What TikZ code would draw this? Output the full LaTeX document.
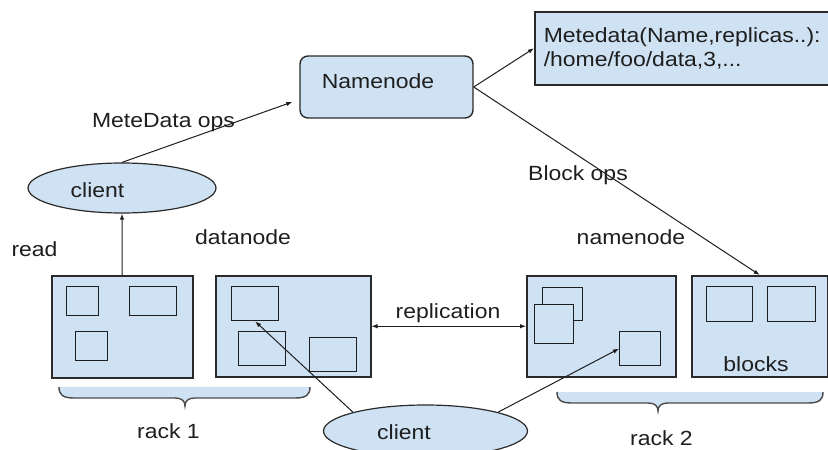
\documentclass[tikz,border=0pt]{standalone}
\usepackage{fontspec}
\newfontfamily\diafont{Liberation Sans}[FakeStretch=1.12]
\usetikzlibrary{shapes.geometric,arrows.meta}
\definecolor{boxblue}{HTML}{CFE2F3}
\definecolor{edgegray}{HTML}{2A2A2A}
\definecolor{inkgray}{HTML}{1E1E1E}

\tikzset{
  rack/.style={draw=edgegray, line width=1.5pt, fill=boxblue, anchor=north west, inner sep=0pt},
  blk/.style={draw=inkgray, line width=1.4pt, fill=boxblue, anchor=north west, inner sep=0pt},
  cli/.style={ellipse, draw=edgegray, line width=1.2pt, fill=boxblue, inner sep=0pt},
  lbl/.style={font=\diafont\fontsize{20.5}{24}\selectfont, text=inkgray, inner sep=0pt},
  conn/.style={draw=inkgray, line width=1pt}
}

\begin{document}
\begin{tikzpicture}[x=1pt, y=-1pt, >={Latex[length=6pt,width=4.5pt]}]
        \useasboundingbox (0,0) rectangle (828,450);
        % --- Namenode and metadata ---
        \node[draw=edgegray, line width=1.4pt, fill=boxblue, rounded corners=8pt,
              minimum width=173, minimum height=62, inner sep=0pt,
              label={[lbl, xshift=-8.5pt, yshift=6pt]center:Namenode}] (namenode) at (386.5,87) {};
        \node[rack, lbl, draw=edgegray, fill=boxblue, minimum width=296, minimum height=73,
              text width=278, align=left, inner xsep=9pt] (meta) at (534,11)
              {Metedata(Name,replicas..):\\/home/foo/data,3,...};
        % --- Clients ---
        \node[cli, minimum width=188, minimum height=50,
              label={[lbl, xshift=-24.5pt, yshift=-2pt]center:client}] (client1) at (122,188) {};
        \node[cli, minimum width=204, minimum height=52,
              label={[lbl, xshift=-21.5pt, yshift=-1pt]center:client}] (client2) at (425.5,431) {};
        % --- Datanodes ---
        \node[rack, minimum width=141, minimum height=102] (dn1) at (51,275) {};
        \node[rack, minimum width=155, minimum height=101] (dn2) at (215,275) {};
        \node[rack, minimum width=149, minimum height=101] (dn3) at (526,275) {};
        \node[rack, minimum width=136, minimum height=101] (dn4) at (691,275) {};
        % --- Blocks ---
        \foreach \n/\x/\y/\w/\h in {b11/66/286/32/29, b12/129/286/47/29, b13/75/331/32/29,
                                    b21/231/286/47/34, b22/238/331/47/34, b23/309/337/47/34,
                                    b31/542/287/40/33, b32/534/304/39/39, b33/619/331/41/34,
                                    b41/706/286/46/35, b42/767/286/48/35}
            \node[blk, minimum width=\w, minimum height=\h] (\n) at (\x,\y) {};
        % --- Racks ---
        \foreach \l/\m/\r/\t in {59/185/310/387, 557/658/823/392} {
            \fill[boxblue] (\l,\t) .. controls (\l,{\t+8}) and ({\l+4},{\t+11}) .. ({\l+15},{\t+11})
                -- ({\m-10},{\t+11}) .. controls ({\m-3},{\t+11}) and (\m,{\t+14}) .. (\m,{\t+19})
                .. controls (\m,{\t+14}) and ({\m+3},{\t+11}) .. ({\m+10},{\t+11})
                -- ({\r-15},{\t+11}) .. controls ({\r-4},{\t+11}) and (\r,{\t+8}) .. (\r,\t) -- cycle;
            \draw[edgegray!85, line width=1.4pt] (\l,\t) .. controls (\l,{\t+8}) and ({\l+4},{\t+11}) .. ({\l+15},{\t+11})
                -- ({\m-10},{\t+11}) .. controls ({\m-3},{\t+11}) and (\m,{\t+14}) .. (\m,{\t+19})
                .. controls (\m,{\t+14}) and ({\m+3},{\t+11}) .. ({\m+10},{\t+11})
                -- ({\r-15},{\t+11}) .. controls ({\r-4},{\t+11}) and (\r,{\t+8}) .. (\r,\t);
        }
        % --- Labels ---
        \node[lbl] (metaops) at (163.5,123) {MeteData ops};
        \node[lbl] (blockops) at (578,175) {Block ops};
        \node[lbl] (read) at (34.5,249) {read};
        \node[lbl] (datanode) at (243,237) {datanode};
        \node[lbl] (namenodelbl) at (631,237) {namenode};
        \node[lbl] (replication) at (448,313) {replication};
        \node[lbl] (blocks) at (756,364) {blocks};
        \node[lbl] (rack1) at (168.5,431) {rack 1};
        \node[lbl] (rack2) at (661.5,438) {rack 2};
        % --- Connectors ---
        \draw[conn, ->] (dn1.north) -- (client1.south);
        \draw[conn, ->] (client1.north) -- ([xshift=-7pt, yshift=-15pt]namenode.west);
        \draw[conn, ->] (namenode.east) -- (meta.west);
        \draw[conn, ->] (namenode.east) -- (dn4.north);
        \draw[conn, <->] (dn2.east) -- (dn3.west);
        \draw[conn, ->] (client2.north west) -- (b21.south);
        \draw[conn, ->] (client2.north east) -- (b33.west);
    \end{tikzpicture}
\end{document}
